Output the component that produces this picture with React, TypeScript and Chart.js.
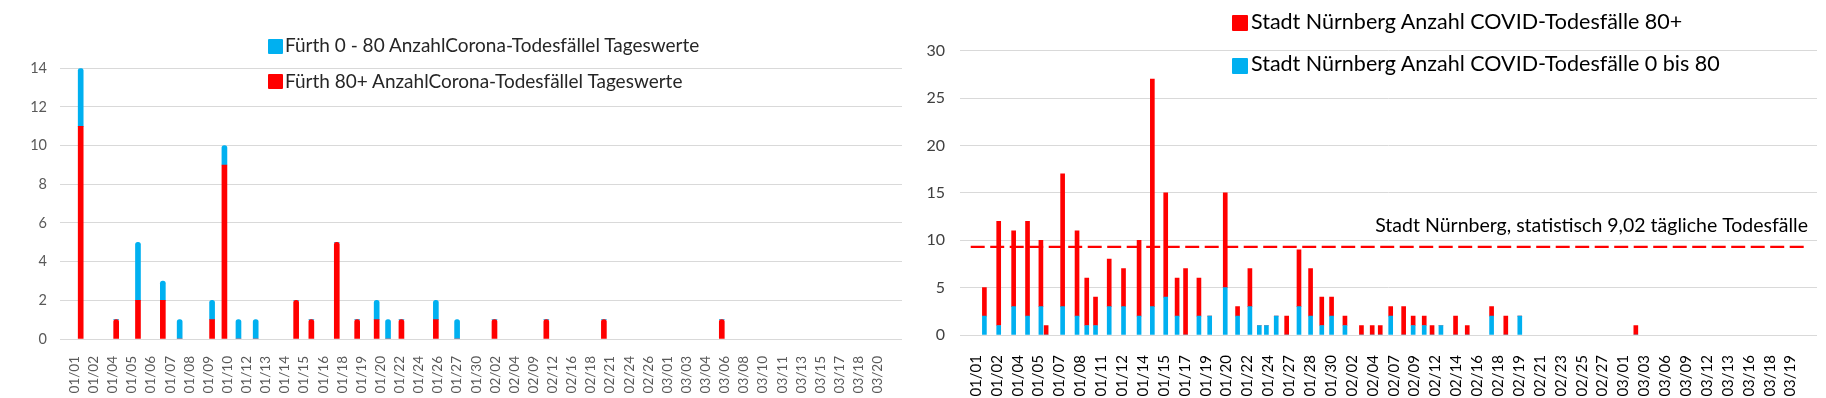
import React, { useEffect, useRef } from 'react';
import { Chart, registerables } from 'chart.js';

Chart.register(...registerables);

const FONT = 'Lato, "Open Sans", sans-serif';

// ---------- Left chart (Fürth) ----------
const leftLabels = ['01/01','01/02','01/04','01/05','01/06','01/07','01/08','01/09','01/10','01/12','01/13','01/14','01/15','01/16','01/18','01/19','01/20','01/22','01/24','01/26','01/27','01/30','02/02','02/04','02/09','02/12','02/16','02/18','02/21','02/24','02/26','03/01','03/03','03/04','03/06','03/08','03/10','03/11','03/13','03/15','03/17','03/18','03/20'];
// bar positions in category units (labels sit on every second category)
const leftPositions = [0.64, 4.35, 6.63, 9.23, 10.99, 14.38, 15.67, 17.14, 18.94, 23.17, 24.76, 27.42, 29.55, 31.59, 32.78, 34.18, 37.78, 40.0, 43.91, 49.33, 55.35, 67.68];
const leftRed80 = [11, 1, 2, 2, 0, 1, 9, 0, 0, 2, 1, 5, 1, 1, 0, 1, 1, 0, 1, 1, 1, 1];
const leftBlue0to80 = [3, 0, 3, 1, 1, 1, 1, 1, 1, 0, 0, 0, 0, 1, 1, 0, 1, 1, 0, 0, 0, 0];
const leftSeriesBlue = 'Fürth 0 - 80 AnzahlCorona-Todesfällel Tageswerte';
const leftSeriesRed = 'Fürth 80+ AnzahlCorona-Todesfällel Tageswerte';

// ---------- Right chart (Nürnberg) ----------
const rightLabels = ['01/01','01/02','01/04','01/05','01/07','01/08','01/11','01/12','01/14','01/15','01/17','01/19','01/20','01/22','01/24','01/27','01/28','01/30','02/02','02/04','02/07','02/09','02/12','02/14','02/16','02/18','02/19','02/21','02/23','02/25','02/27','03/01','03/03','03/06','03/09','03/12','03/13','03/16','03/18','03/19'];
const rightPositions = [0.81, 2.18, 3.61, 4.94, 6.22, 6.72, 8.30, 9.68, 10.61, 11.45, 12.76, 14.13, 15.62, 16.89, 18.17, 19.26, 20.07, 21.35, 22.38, 23.87, 25.05, 26.23, 27.13, 27.81, 28.75, 29.75, 30.93, 32.04, 33.11, 34.05, 35.33, 36.91, 37.94, 38.71, 39.71, 40.95, 41.86, 42.92, 43.67, 44.52, 45.92, 47.04, 49.37, 50.73, 52.07, 63.18];
const rightBlue0to80 = [2, 1, 3, 2, 3, 0, 3, 2, 1, 1, 3, 3, 2, 3, 4, 2, 0, 2, 2, 5, 2, 3, 1, 1, 2, 0, 3, 2, 1, 2, 1, 0, 0, 0, 2, 0, 1, 1, 0, 1, 0, 0, 2, 0, 2, 0];
const rightRed80 = [3, 11, 8, 10, 7, 1, 14, 9, 5, 3, 5, 4, 8, 24, 11, 4, 7, 4, 0, 10, 1, 4, 0, 0, 0, 2, 6, 5, 3, 2, 1, 1, 1, 1, 1, 3, 1, 1, 1, 0, 2, 1, 1, 2, 0, 1];
const rightSeriesRed = 'Stadt Nürnberg Anzahl COVID-Todesfälle 80+';
const rightSeriesBlue = 'Stadt Nürnberg Anzahl COVID-Todesfälle 0 bis 80';
const avgLineValue = 9.3;
const avgLabel = 'Stadt Nürnberg, statistisch 9,02 tägliche Todesfälle';

const RED = '#FF0000';
const BLUE = '#00B0F0';
const GRID = '#D9D9D9';

function xAxis(labels: string[], fontSize: number, color: string, padding: number, height: number) {
  return {
    type: 'linear' as const,
    min: -0.5,
    max: labels.length * 2 - 0.5,
    stacked: true,
    grid: { display: false },
    border: { display: false },
    afterBuildTicks: (axis: any) => {
      axis.ticks = labels.map((_, i) => ({ value: i * 2 }));
    },
    afterFit: (axis: any) => {
      axis.height = height;
    },
    ticks: {
      autoSkip: false,
      minRotation: 90,
      maxRotation: 90,
      padding,
      color,
      font: { family: FONT, size: fontSize },
      callback: (v: any) => labels[Math.round(Number(v) / 2)] ?? '',
    },
  };
}

function yAxis(max: number, step: number, fontSize: number, color: string, padding: number, width: number) {
  return {
    type: 'linear' as const,
    min: 0,
    max,
    stacked: true,
    grid: { color: GRID, lineWidth: 1, drawTicks: false },
    border: { display: false },
    afterFit: (axis: any) => {
      axis.width = width;
    },
    ticks: {
      stepSize: step,
      padding,
      color,
      font: { family: FONT, size: fontSize },
    },
  };
}

const avgTextPlugin = {
  id: 'avgText',
  afterDatasetsDraw(chart: any) {
    const { ctx, chartArea, scales } = chart;
    const y = scales.y.getPixelForValue(avgLineValue);
    ctx.save();
    ctx.font = `19.5px ${FONT}`;
    ctx.fillStyle = '#000';
    ctx.textAlign = 'right';
    ctx.textBaseline = 'alphabetic';
    ctx.fillText(avgLabel, chartArea.right - 9, y - 14.7);
    ctx.restore();
  },
};

function LeftChart() {
  const ref = useRef<HTMLCanvasElement>(null);
  useEffect(() => {
    if (!ref.current) return;
    const chart = new Chart(ref.current, {
      type: 'bar',
      data: {
        datasets: [
          {
            label: leftSeriesRed,
            data: leftPositions.map((x, i) => ({ x, y: leftRed80[i] })),
            backgroundColor: RED,
            barThickness: 5,
            borderRadius: 2.5,
          },
          {
            label: leftSeriesBlue,
            data: leftPositions.map((x, i) => ({ x, y: leftBlue0to80[i] })),
            backgroundColor: BLUE,
            barThickness: 5,
            borderRadius: 2.5,
          },
        ],
      },
      options: {
        animation: false,
        responsive: false,
        maintainAspectRatio: false,
        layout: { padding: { top: 68.3, right: 8, bottom: 0, left: 0 } },
        plugins: { legend: { display: false }, tooltip: { enabled: false } },
        scales: {
          x: xAxis(leftLabels, 13.5, '#595959', 9, 59),
          y: yAxis(14, 2, 14.5, '#595959', 13, 60),
        },
      } as any,
    });
    return () => chart.destroy();
  }, []);
  return <canvas ref={ref} width={910} height={398} style={{ position: 'absolute', left: 0, top: 0 }} />;
}

function RightChart() {
  const ref = useRef<HTMLCanvasElement>(null);
  useEffect(() => {
    if (!ref.current) return;
    const chart = new Chart(ref.current, {
      type: 'bar',
      data: {
        datasets: [
          {
            type: 'line',
            label: 'avg',
            data: [
              { x: -0.5, y: avgLineValue },
              { x: rightLabels.length * 2 - 0.5, y: avgLineValue },
            ],
            borderColor: RED,
            borderWidth: 2.2,
            borderDash: [14, 5.5],
            pointRadius: 0,
            order: -1,
          } as any,
          {
            label: rightSeriesBlue,
            data: rightPositions.map((x, i) => ({ x, y: rightBlue0to80[i] })),
            backgroundColor: BLUE,
            barThickness: 4,
          },
          {
            label: rightSeriesRed,
            data: rightPositions.map((x, i) => ({ x, y: rightRed80[i] })),
            backgroundColor: RED,
            barThickness: 4,
          },
        ],
      },
      options: {
        animation: false,
        responsive: false,
        maintainAspectRatio: false,
        layout: { padding: { top: 50.7, right: 9, bottom: 0, left: 0 } },
        plugins: { legend: { display: false }, tooltip: { enabled: false } },
        scales: {
          x: xAxis(rightLabels, 15, '#000000', 12, 63),
          y: yAxis(30, 5, 16, '#404040', 15, 50),
        },
      } as any,
      plugins: [avgTextPlugin],
    });
    return () => chart.destroy();
  }, []);
  return <canvas ref={ref} width={916} height={398} style={{ position: 'absolute', left: 910, top: 0 }} />;
}

function LegendRow(props: { left: number; squareTop: number; size: number; color: string; text: string; fontSize: number; baseline: number; textLeft: number; textColor: string }) {
  const { left, squareTop, size, color, text, fontSize, baseline, textLeft, textColor } = props;
  return (
    <>
      <div style={{ position: 'absolute', left, top: squareTop, width: size, height: size, background: color, borderRadius: 1 }} />
      <div
        style={{
          position: 'absolute',
          left: textLeft,
          top: baseline - fontSize * 0.987,
          fontFamily: FONT,
          fontSize,
          lineHeight: 1.2,
          color: textColor,
          whiteSpace: 'nowrap',
        }}
      >
        {text}
      </div>
    </>
  );
}

export default function App() {
  return (
    <div style={{ position: 'fixed', left: 0, top: 0, width: 1826, height: 398, background: '#fff', overflow: 'hidden' }}>
      <LeftChart />
      <RightChart />
      <LegendRow left={268} squareTop={39} size={15} color={BLUE} text={leftSeriesBlue} fontSize={19} baseline={52.3} textLeft={285} textColor="#262626" />
      <LegendRow left={268} squareTop={74} size={15} color={RED} text={leftSeriesRed} fontSize={19} baseline={88.3} textLeft={285} textColor="#262626" />
      <LegendRow left={1232} squareTop={15} size={16} color={RED} text={rightSeriesRed} fontSize={21.5} baseline={30} textLeft={1251} textColor="#000" />
      <LegendRow left={1232} squareTop={58} size={16} color={BLUE} text={rightSeriesBlue} fontSize={21.5} baseline={72.7} textLeft={1251} textColor="#000" />
    </div>
  );
}
